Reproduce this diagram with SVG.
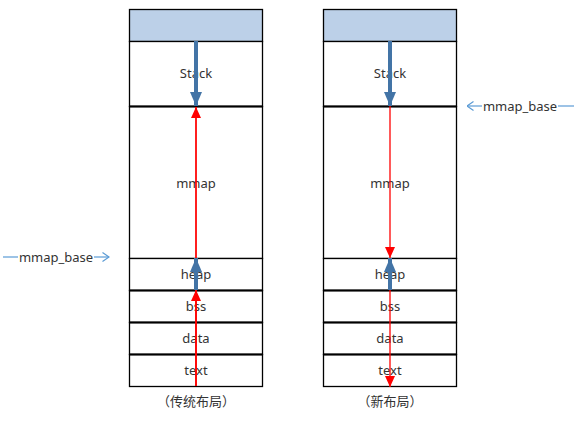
<svg xmlns="http://www.w3.org/2000/svg" width="583" height="435" viewBox="0 0 583 435">
<defs>
<style>
.cell{fill:#fff;stroke:#000;stroke-width:1.3}
.top{fill:#bcd0e8;stroke:#000;stroke-width:1.3}
.sep{stroke:#000;stroke-width:2}
.lbl{font-family:"Noto Sans","DejaVu Sans",sans-serif;font-size:13px;fill:#333;text-anchor:middle;dominant-baseline:central}
.cap{font-family:"Noto Sans CJK SC",sans-serif;font-size:13px;fill:#333;text-anchor:middle;dominant-baseline:central}
.blue{stroke:#4374a6;stroke-width:4;fill:none}
.red{stroke:#ff0000;stroke-width:1.3;fill:none}
.mm{stroke:#5b9bd5;stroke-width:1.2;fill:none}
</style>
<marker id="bh" markerWidth="14" markerHeight="12" viewBox="0 0 14 12" refX="14" refY="6" orient="auto" markerUnits="userSpaceOnUse">
<path d="M0,0 L14,6 L0,12 Z" fill="#4374a6"/>
</marker>
<marker id="rh" markerWidth="11" markerHeight="10" viewBox="0 0 11 10" refX="11" refY="5" orient="auto" markerUnits="userSpaceOnUse">
<path d="M0,0 L11,5 L0,10 Z" fill="#ff0000"/>
</marker>
<marker id="oh" markerWidth="8" markerHeight="10" viewBox="0 0 8 10" refX="7.5" refY="5" orient="auto" markerUnits="userSpaceOnUse">
<path d="M1,0.5 L7.5,5 L1,9.5" fill="none" stroke="#5b9bd5" stroke-width="1.2"/>
</marker>
</defs>

<g id="old-layout">
<rect class="top" x="129.5" y="9.5" width="133" height="32"/>
<rect class="cell" x="129.5" y="41.5" width="133" height="65"/>
<rect class="cell" x="129.5" y="106.5" width="133" height="152"/>
<rect class="cell" x="129.5" y="258.5" width="133" height="32"/>
<rect class="cell" x="129.5" y="290.5" width="133" height="32"/>
<rect class="cell" x="129.5" y="322.5" width="133" height="32"/>
<rect class="cell" x="129.5" y="354.5" width="133" height="32"/>
<line class="sep" x1="129.5" y1="106.5" x2="262.5" y2="106.5"/>
<line class="sep" x1="129.5" y1="290.5" x2="262.5" y2="290.5"/>
<line class="sep" x1="129.5" y1="322.5" x2="262.5" y2="322.5"/>
<line class="sep" x1="129.5" y1="354.5" x2="262.5" y2="354.5"/>
<text class="lbl" x="196" y="73">Stack</text>
<text class="lbl" x="196" y="183">mmap</text>
<text class="lbl" x="196" y="274">heap</text>
<text class="lbl" x="196" y="306">bss</text>
<text class="lbl" x="196" y="338">data</text>
<text class="lbl" x="196" y="370">text</text>
<text class="cap" x="196" y="400">（传统布局）</text>
</g>

<g id="new-layout">
<rect class="top" x="323.5" y="9.5" width="133" height="32"/>
<rect class="cell" x="323.5" y="41.5" width="133" height="65"/>
<rect class="cell" x="323.5" y="106.5" width="133" height="152"/>
<rect class="cell" x="323.5" y="258.5" width="133" height="32"/>
<rect class="cell" x="323.5" y="290.5" width="133" height="32"/>
<rect class="cell" x="323.5" y="322.5" width="133" height="32"/>
<rect class="cell" x="323.5" y="354.5" width="133" height="32"/>
<line class="sep" x1="323.5" y1="106.5" x2="456.5" y2="106.5"/>
<line class="sep" x1="323.5" y1="290.5" x2="456.5" y2="290.5"/>
<line class="sep" x1="323.5" y1="322.5" x2="456.5" y2="322.5"/>
<line class="sep" x1="323.5" y1="354.5" x2="456.5" y2="354.5"/>
<text class="lbl" x="390" y="73">Stack</text>
<text class="lbl" x="390" y="183">mmap</text>
<text class="lbl" x="390" y="274">heap</text>
<text class="lbl" x="390" y="306">bss</text>
<text class="lbl" x="390" y="338">data</text>
<text class="lbl" x="390" y="370">text</text>
<text class="cap" x="390" y="400">（新布局）</text>
</g>

<g id="mmap-base-labels">
<text class="lbl" x="56" y="257" style="fill:#333">mmap_base</text>
<text class="lbl" x="520" y="106" style="fill:#333">mmap_base</text>
</g>

<g id="connectors">
<line class="red" x1="196" y1="386" x2="196" y2="107"/>
<line class="red" x1="196" y1="386" x2="196" y2="107" marker-end="url(#rh)"/>
<line class="red" x1="196" y1="386" x2="196" y2="290" marker-end="url(#rh)"/>
<line class="blue" x1="196" y1="41" x2="196" y2="106" marker-end="url(#bh)"/>
<line class="blue" x1="196" y1="290" x2="196" y2="258" marker-end="url(#bh)"/>

<line class="red" x1="390" y1="106" x2="390" y2="258" marker-end="url(#rh)"/>
<line class="red" x1="390" y1="258" x2="390" y2="387" marker-end="url(#rh)"/>
<line class="blue" x1="390" y1="41" x2="390" y2="106" marker-end="url(#bh)"/>
<line class="blue" x1="390" y1="290" x2="390" y2="258" marker-end="url(#bh)"/>

<line class="mm" x1="3" y1="257" x2="18" y2="257"/>
<line class="mm" x1="94" y1="257" x2="109" y2="257" marker-end="url(#oh)"/>
<line class="mm" x1="482" y1="106" x2="467" y2="106" marker-end="url(#oh)"/>
<line class="mm" x1="558" y1="106" x2="574" y2="106"/>
</g>
</svg>
